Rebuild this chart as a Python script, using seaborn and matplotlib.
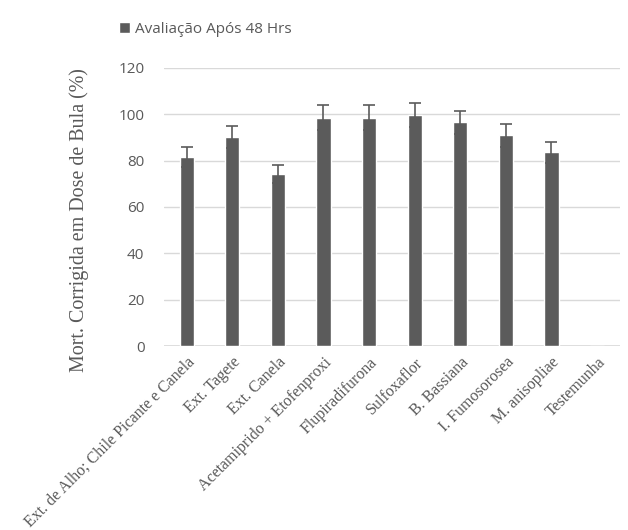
import numpy as np
import pandas as pd
import matplotlib
matplotlib.use('Agg')
import matplotlib.pyplot as plt
import seaborn as sns

TRATAMENTOS = [
    'Ext. de Alho; Chile Picante e Canela',
    'Ext. Tagete',
    'Ext. Canela',
    'Acetamiprido + Etofenproxi',
    'Flupiradifurona',
    'Sulfoxaflor',
    'B. Bassiana',
    'I. Fumosorosea',
    'M. anisopliae',
    'Testemunha',
]
MORTALIDADE = [81.5, 90.2, 74.1, 98.4, 98.4, 99.6, 96.5, 90.9, 83.6, 0.0]
ERRO = [4.3, 4.6, 3.9, 5.4, 5.4, 5.3, 4.9, 5.0, 4.6, 0.0]
SERIE = 'Avaliação Após 48 Hrs'

COR_BARRA = '#5b5b5b'
COR_TEXTO = '#595959'
COR_GRADE = '#d9d9d9'


def main():
    sns.set_theme(style='white')
    plt.rcParams['font.family'] = ['Open Sans', 'DejaVu Sans']

    df = pd.DataFrame({'Tratamento': TRATAMENTOS, 'Mortalidade': MORTALIDADE})

    fig = plt.figure(figsize=(6.28, 5.30), dpi=100)
    ax = fig.add_axes([0.261, 0.347, 0.726, 0.525])

    sns.barplot(data=df, x='Tratamento', y='Mortalidade', color=COR_BARRA,
                width=0.31, saturation=1, errorbar=None, label=SERIE, ax=ax,
                zorder=3)
    pos = np.arange(len(TRATAMENTOS))
    mask = np.array(ERRO) > 0
    ax.errorbar(pos[mask], np.array(MORTALIDADE)[mask], yerr=np.array(ERRO)[mask],
                fmt='none', ecolor=COR_BARRA, elinewidth=1.2, capsize=4,
                capthick=1.2, zorder=4)

    ax.set_xlim(-0.5, len(TRATAMENTOS) - 0.5)
    ax.set_ylim(0, 120)
    ax.set_yticks(range(0, 121, 20))
    ax.yaxis.grid(True, color=COR_GRADE, linewidth=1, zorder=0)
    ax.set_axisbelow(True)
    for s in ['top', 'right', 'left', 'bottom']:
        ax.spines[s].set_visible(False)
    ax.axhline(0, color=COR_GRADE, linewidth=1.2, zorder=1)

    ax.tick_params(axis='y', length=0, pad=14, labelsize=11, labelcolor=COR_TEXTO)
    ax.tick_params(axis='x', length=0, pad=6, labelcolor=COR_TEXTO)
    ax.set_xticks(pos)
    ax.set_xticklabels(TRATAMENTOS, rotation=45, ha='right', rotation_mode='anchor',
                       family=['Liberation Serif'], fontsize=11.5)

    ax.set_xlabel('')
    ax.set_ylabel('Mort. Corrigida em Dose de Bula (%)', family=['Liberation Serif'],
                  fontsize=14.4, color=COR_TEXTO)
    ax.yaxis.set_label_coords(-0.164, 0.453)

    ax.legend(loc='upper left', bbox_to_anchor=(0.168, 0.985),
              bbox_transform=fig.transFigure, frameon=False, fontsize=11,
              handlelength=0.7, handleheight=0.7, handletextpad=0.3,
              labelcolor=COR_TEXTO)

    fig.savefig('out.png', dpi=100)
    plt.close(fig)


if __name__ == '__main__':
    main()
